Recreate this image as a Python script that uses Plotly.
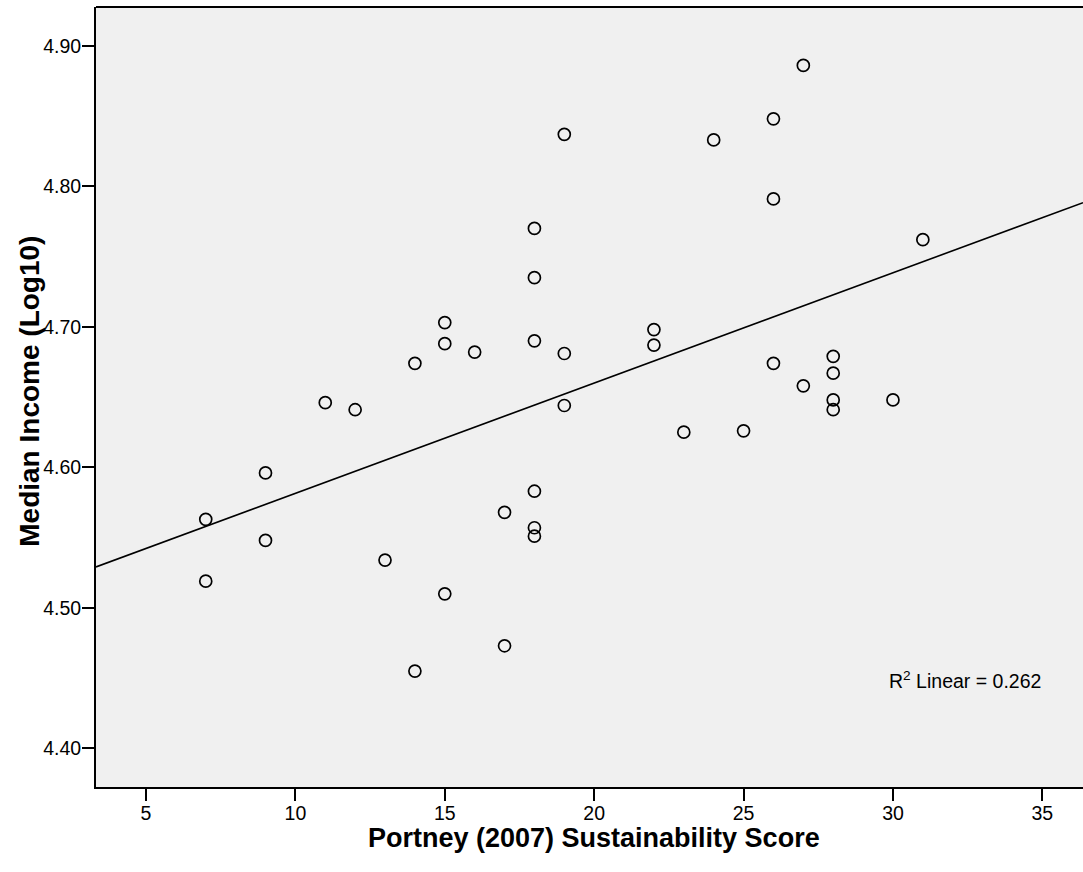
import numpy as np
import plotly.graph_objects as go

# Portney (2007) Sustainability Score
score = [7, 7, 9, 9, 11, 12, 13, 14, 14, 15, 15, 15, 16, 17, 17,
         18, 18, 18, 18, 18, 18, 19, 19, 19, 22, 22, 23, 24, 25,
         26, 26, 26, 27, 27, 28, 28, 28, 28, 30, 31]
# Median Income (Log10)
income = [4.563, 4.519, 4.596, 4.548, 4.646, 4.641, 4.534, 4.674, 4.455,
          4.703, 4.688, 4.510, 4.682, 4.568, 4.473,
          4.770, 4.735, 4.690, 4.583, 4.557, 4.551,
          4.837, 4.681, 4.644, 4.698, 4.687, 4.625, 4.833, 4.626,
          4.848, 4.791, 4.674, 4.886, 4.658, 4.679, 4.667, 4.648, 4.641,
          4.648, 4.762]

x_ticks = [5, 10, 15, 20, 25, 30, 35]
y_ticks = [4.40, 4.50, 4.60, 4.70, 4.80, 4.90]
y_tick_labels = ["4.40", "4.50", "4.60", "4.70", "4.80", "4.90"]
x_title = "<b>Portney (2007) Sustainability Score</b>"
y_title = "<b>Median Income (Log10)</b>"
r2_label = "R<sup>2</sup> Linear = 0.262"

x_range = [3.327, 36.36]
y_range = [4.3725, 4.9276]

slope, intercept = np.polyfit(score, income, 1)
fit_x = np.array(x_range)
fit_y = intercept + slope * fit_x

FONT = "Liberation Sans, Arial, sans-serif"

fig = go.Figure()
fig.add_trace(go.Scatter(
    x=fit_x, y=fit_y, mode="lines",
    line=dict(color="black", width=1.6),
    showlegend=False, hoverinfo="skip"))
fig.add_trace(go.Scatter(
    x=score, y=income, mode="markers",
    marker=dict(symbol="circle-open", size=12, color="black",
                line=dict(width=1.7, color="black")),
    showlegend=False))

fig.update_layout(
    width=1083, height=872,
    margin=dict(l=96, r=0, t=7, b=85),
    paper_bgcolor="white",
    plot_bgcolor="#F0F0F0",
    font=dict(family=FONT, color="black", size=19.5),
    xaxis=dict(
        range=x_range, tickvals=x_ticks, ticks="outside", ticklen=12,
        tickwidth=2, tickcolor="black", showgrid=False, zeroline=False,
        showline=True, linecolor="black", linewidth=2,
        tickfont=dict(size=19.5), ticklabelstandoff=-4),
    yaxis=dict(
        range=y_range, tickvals=y_ticks, ticktext=y_tick_labels,
        ticks="outside", ticklen=12, tickwidth=2, tickcolor="black",
        showgrid=False, zeroline=False,
        showline=True, linecolor="black", linewidth=2,
        tickfont=dict(size=19.5), ticklabelstandoff=-3),
    shapes=[dict(type="line", xref="paper", yref="paper",
                 x0=0, x1=1, y0=1, y1=1,
                 line=dict(color="black", width=2))],
    annotations=[
        dict(text=r2_label, x=32.41, y=4.4485, xref="x", yref="y",
             showarrow=False, font=dict(size=19.5, color="black")),
        dict(text=x_title, x=0.505, y=-0.0654, xref="paper", yref="paper",
             xanchor="center", yanchor="middle", showarrow=False,
             font=dict(size=27, color="black")),
        dict(text=y_title, x=-0.0669, y=0.508, xref="paper", yref="paper",
             xanchor="center", yanchor="middle", textangle=-90,
             showarrow=False, font=dict(size=28, color="black")),
    ],
)

fig.write_html("out.html", config={"displayModeBar": False},
               post_script="document.body.style.margin='0';")
